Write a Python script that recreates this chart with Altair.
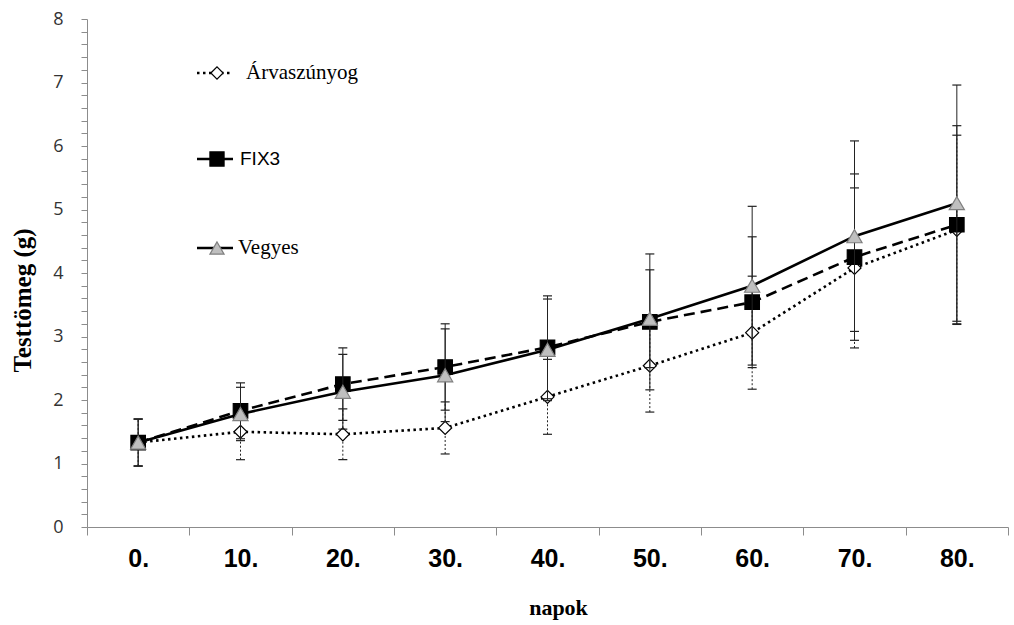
import altair as alt
import pandas as pd

days = ["0.", "10.", "20.", "30.", "40.", "50.", "60.", "70.", "80."]
series_names = ["Árvaszúnyog", "FIX3", "Vegyes"]

arva_mean = [1.33, 1.50, 1.46, 1.56, 2.05, 2.54, 3.06, 4.08, 4.68]
arva_sd = [0.37, 0.44, 0.40, 0.41, 0.59, 0.73, 0.89, 1.26, 1.49]
fix3_mean = [1.33, 1.83, 2.25, 2.52, 2.83, 3.23, 3.54, 4.25, 4.76]
fix3_sd = [0.37, 0.44, 0.57, 0.68, 0.81, 1.07, 1.03, 1.31, 1.56]
vegyes_mean = [1.33, 1.78, 2.13, 2.39, 2.79, 3.28, 3.80, 4.58, 5.10]
vegyes_sd = [0.37, 0.42, 0.59, 0.73, 0.80, 0.77, 1.25, 1.50, 1.86]

y_ticks = [round(i * 0.2, 1) for i in range(41)]


def make_df(name, means, sds):
    return pd.DataFrame({
        "series": name,
        "day": days,
        "mean": means,
        "lo": [m - s for m, s in zip(means, sds)],
        "hi": [m + s for m, s in zip(means, sds)],
    })


df_a = make_df(series_names[0], arva_mean, arva_sd)
df_f = make_df(series_names[1], fix3_mean, fix3_sd)
df_v = make_df(series_names[2], vegyes_mean, vegyes_sd)

x_enc = alt.X(
    "day:N", sort=days,
    scale=alt.Scale(paddingInner=0, paddingOuter=0),
    axis=alt.Axis(
        title="napok", labelAngle=0, tickBand="extent", tickSize=8,
        domainColor="#8c8c8c", tickColor="#8c8c8c",
        labelFont="Liberation Sans", labelFontWeight="bold", labelFontSize=25,
        labelColor="black", labelPadding=11,
        titleFont="Liberation Serif", titleFontWeight="bold", titleFontSize=22,
        titleColor="black", titleX=471, titleY=80, titleBaseline="middle",
    ),
)
y_scale = alt.Scale(domain=[0, 8], nice=False, zero=True)
y_axis = alt.Axis(
    title="Testtömeg (g)", values=y_ticks, tickCount=41,
    labelExpr="datum.value % 1 === 0 ? format(datum.value, 'd') : ''",
    labelOverlap=False, labelFlush=False,
    tickSize=6, domainColor="#8c8c8c", tickColor="#8c8c8c",
    labelFont="Open Sans", labelFontSize=18, labelColor="#333333",
    labelPadding=18, grid=False,
    titleFont="Liberation Serif", titleFontWeight="bold", titleFontSize=25,
    titleColor="black", titleAngle=-90, titleX=-65, titleY=281,
    titleAlign="center", titleBaseline="middle",
)


def series_layers(df, dash, err_dash, shape, fill, stroke, size, first=False):
    base = alt.Chart(df)
    xe = x_enc if first else alt.X("day:N", sort=days)
    ye = alt.Y("mean:Q", scale=y_scale, axis=y_axis) if first else alt.Y("mean:Q")
    err_props = dict(color="#222222", strokeWidth=1)
    if err_dash:
        err_props["strokeDash"] = err_dash
    err = base.mark_rule(**err_props).encode(x=xe, y=alt.Y("lo:Q"), y2="hi:Q")
    cap_lo = base.mark_tick(orient="horizontal", size=9, thickness=1.2, color="#222222", opacity=1).encode(
        x=alt.X("day:N", sort=days), y="lo:Q")
    cap_hi = base.mark_tick(orient="horizontal", size=9, thickness=1.2, color="#222222", opacity=1).encode(
        x=alt.X("day:N", sort=days), y="hi:Q")
    line_props = dict(color="black", strokeWidth=2.6)
    if dash:
        line_props["strokeDash"] = dash
    line = base.mark_line(**line_props).encode(x=alt.X("day:N", sort=days), y=ye)
    pts = base.mark_point(shape=shape, filled=True, fill=fill, stroke=stroke,
                          strokeWidth=1.2, size=size, opacity=1).encode(
        x=alt.X("day:N", sort=days), y="mean:Q")
    return [err, cap_lo, cap_hi, line, pts]


layers = []
layers += series_layers(df_a, [2.5, 3.5], [2, 2], "diamond", "white", "black", 170, first=True)
layers += series_layers(df_f, [11, 6], None, "square", "black", "black", 210)
layers += series_layers(df_v, None, None, "triangle-up", "#bfbfbf", "#7f7f7f", 230)

# manual legend
leg_df = pd.DataFrame({"series": series_names})
leg_rows = [
    (series_names[0], 54, [2.5, 3.5], "diamond", "white", "black", 150, 159, "Liberation Serif", 21),
    (series_names[1], 140, None, "square", "black", "black", 200, 153, "Liberation Sans", 19),
    (series_names[2], 229, None, "triangle-up", "#bfbfbf", "#7f7f7f", 200, 151, "Liberation Serif", 21),
]
for name, ly, dash, shape, fill, stroke, size, tx, font, fsize in leg_rows:
    b = alt.Chart(leg_df).transform_filter(alt.datum.series == name)
    rp = dict(color="black", strokeWidth=2.6)
    if dash:
        rp["strokeDash"] = dash
    layers.append(b.mark_rule(**rp).encode(x=alt.value(110), x2=alt.value(146), y=alt.value(ly)))
    layers.append(b.mark_point(shape=shape, filled=True, fill=fill, stroke=stroke, strokeWidth=1.2,
                               size=size, opacity=1).encode(x=alt.value(130), y=alt.value(ly)))
    layers.append(b.mark_text(align="left", baseline="middle", font=font, fontSize=fsize,
                              color="black").encode(x=alt.value(tx), y=alt.value(ly), text="series:N"))

chart = alt.layer(*layers).properties(
    width=921, height=508,
    autosize=alt.AutoSizeParams(type="none"),
    padding={"left": 87, "top": 19, "right": 6, "bottom": 98},
    background="white",
).configure_view(stroke=None)

chart.save("out.html", embed_options={"renderer": "svg", "actions": False})
